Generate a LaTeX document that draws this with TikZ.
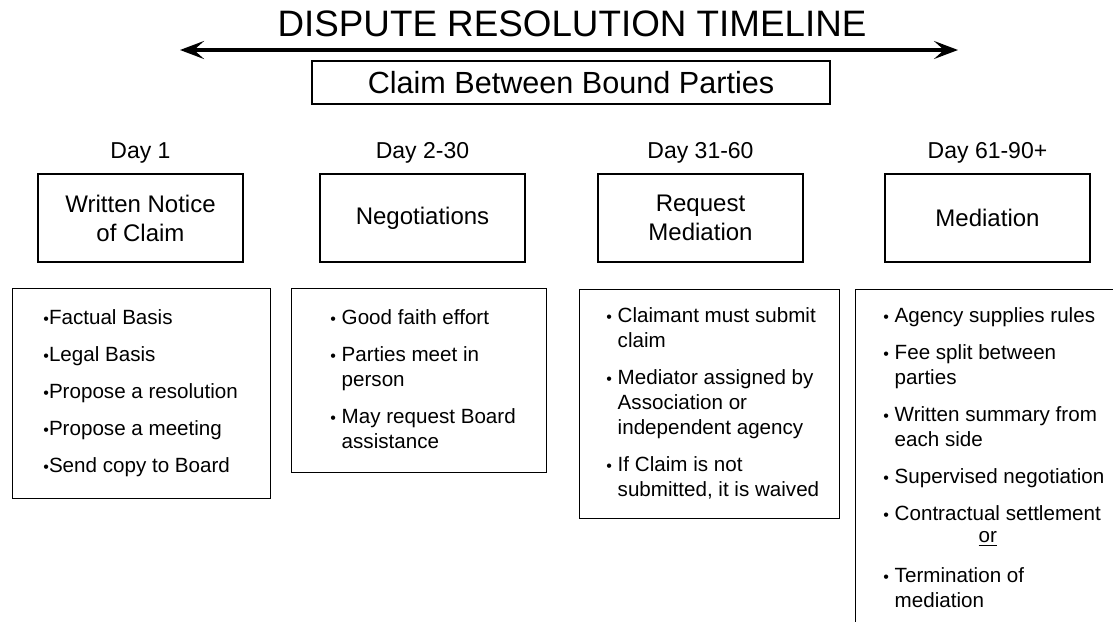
\documentclass[tikz,border=0pt]{standalone}
\usepackage{fontspec}
\setmainfont{Liberation Sans}
\usetikzlibrary{arrows.meta}
\newcommand{\blt}{{\fontsize{8}{8}\selectfont •}}
\newcommand{\ind}{\phantom{\blt\ }}

\begin{document}
\begin{tikzpicture}[x=0.5pt,y=-0.5pt,
    headbox/.style={draw,line width=0.7pt,minimum width=102.5pt,minimum height=44pt,
      align=center,font=\fontsize{12}{14.5}\selectfont},
    daylabel/.style={font=\fontsize{11.5}{13}\selectfont},
    listbox/.style={draw,line width=0.7pt,anchor=north west,inner sep=0pt},
    listtext/.style={anchor=north west,inner sep=0pt,align=left,
      font=\fontsize{10.3}{12.5}\selectfont}]
      \useasboundingbox (0,0) rectangle (1113,621);
      \clip (0,0) rectangle (1113,621);
      % Draw title
      \node (title) at (572,24) {\fontsize{18.4}{20}\selectfont DISPUTE RESOLUTION TIMELINE};
      % Draw timeline
      \coordinate (tl) at (180,50);
      \coordinate (tr) at (958,50);
      \draw [{Stealth[length=12pt,width=9pt,inset=5pt]}-{Stealth[length=12pt,width=9pt,inset=5pt]},
        line width=1.6pt] (tl) -- (tr);
      \node (claim) at (571,82.5) [draw,line width=0.7pt,minimum width=259pt,minimum height=21.5pt,
        font=\fontsize{15.3}{17}\selectfont] {Claim Between Bound Parties};
      % Draw days
      \node (day1) at (140.5,153) [daylabel] {Day 1};
      \node (day2) at (422.5,153) [daylabel] {Day 2-30};
      \node (day3) at (700.5,153) [daylabel] {Day 31-60};
      \node (day4) at (987.5,153) [daylabel] {Day 61-90+};
      % Draw steps
      \node (notice) at (140.5,218) [headbox] {Written Notice\\of Claim};
      \node (negot) at (422.5,218) [headbox] {Negotiations};
      \node (request) at (700.5,218) [headbox] {Request\\Mediation};
      \node (mediat) at (987.5,218) [headbox] {Mediation};
      % Draw lists
      \node (boxA) at (12,288) [listbox,minimum width=129pt,minimum height=105pt] {};
      \node (boxB) at (291,288) [listbox,minimum width=127.5pt,minimum height=92pt] {};
      \node (boxC) at (579,289) [listbox,minimum width=130pt,minimum height=114.5pt] {};
      \node (boxD) at (855,289) [listbox,minimum width=135pt,minimum height=175.5pt] {};
      \node (itemsA) at ([xshift=15.5pt,yshift=-10.5pt]boxA.north west) [listtext]
        {\blt Factual Basis\\[6pt]\blt Legal Basis\\[6pt]\blt Propose a resolution\\[6pt]
         \blt Propose a meeting\\[6pt]\blt Send copy to Board};
      \node (itemsB) at ([xshift=19.5pt,yshift=-10.5pt]boxB.north west) [listtext]
        {\blt\ Good faith effort\\[6pt]\blt\ Parties meet in\\\ind person\\[6pt]
         \blt\ May request Board\\\ind assistance};
      \node (itemsC) at ([xshift=13.5pt,yshift=-9pt]boxC.north west) [listtext]
        {\blt\ Claimant must submit\\\ind claim\\[6pt]
         \blt\ Mediator assigned by\\\ind Association or\\\ind independent agency\\[6pt]
         \blt\ If Claim is not\\\ind submitted, it is waived};
      \node (itemsD) at ([xshift=14pt,yshift=-9pt]boxD.north west) [listtext]
        {\blt\ Agency supplies rules\\[6pt]\blt\ Fee split between\\\ind parties\\[6pt]
         \blt\ Written summary from\\\ind each side\\[6pt]\blt\ Supervised negotiation\\[6pt]
         \blt\ Contractual settlement\\[-1.5pt]\ind\hspace*{42pt}\underline{or}\\[7.5pt]
         \blt\ Termination of\\\ind mediation};
    \end{tikzpicture}
\end{document}
